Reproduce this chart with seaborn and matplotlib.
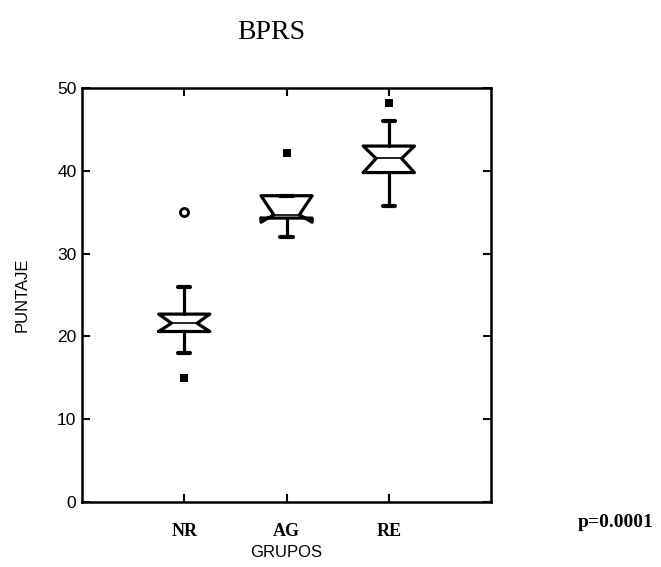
import matplotlib
matplotlib.use("Agg")
import matplotlib.pyplot as plt
import seaborn as sns

# ---- data ----
groups = ["NR", "AG", "RE"]
q1 = [20.6, 34.3, 39.8]
median = [21.6, 34.7, 41.5]
q3 = [22.7, 37.0, 43.0]
ci_lo = [20.6, 33.8, 39.8]
ci_hi = [22.7, 37.0, 43.0]
whisker_lo = [18.0, 32.0, 35.8]
whisker_hi = [26.0, 37.0, 46.0]
far_out_group = ["NR"]
far_out_value = [35.0]
out_group = ["NR", "AG", "RE"]
out_value = [15.0, 42.2, 48.2]
y_ticks = [0, 10, 20, 30, 40, 50]
title = "BPRS"
x_label = "GRUPOS"
y_label = "PUNTAJE"
p_text = "p=0.0001"

sns.set_style("white")
plt.rcParams["font.family"] = ["Liberation Sans", "DejaVu Sans"]
plt.rcParams.update({"text.color": "black", "axes.labelcolor": "black",
                     "xtick.color": "black", "ytick.color": "black"})

fig = plt.figure(figsize=(6.61, 5.67), dpi=100)
ax = fig.add_axes([0.124, 0.1146, 0.619, 0.730])

stats = []
for i, g in enumerate(groups):
    stats.append(dict(label=g, q1=q1[i], med=median[i], q3=q3[i],
                      cilo=ci_lo[i], cihi=ci_hi[i],
                      whislo=whisker_lo[i], whishi=whisker_hi[i], fliers=[]))

pos = list(range(1, len(groups) + 1))
lw = 2.3
ax.bxp(stats, positions=pos, widths=0.5, shownotches=True, showfliers=False,
       capwidths=0.12,
       boxprops=dict(color="black", linewidth=lw),
       whiskerprops=dict(color="black", linewidth=lw),
       capprops=dict(color="black", linewidth=lw + 0.7),
       medianprops=dict(color="black", linewidth=1.2))

sns.scatterplot(x=[groups.index(g) + 1 for g in out_group], y=out_value, ax=ax,
                marker="s", color="black", s=30, linewidth=0, legend=False)
sns.scatterplot(x=[groups.index(g) + 1 for g in far_out_group], y=far_out_value, ax=ax,
                marker="o", facecolor="white", edgecolor="black", s=34, linewidth=2.0,
                legend=False)

ax.set_xlim(0, 4)
ax.set_ylim(0, 50)
ax.set_yticks(y_ticks)
ax.set_xticks(pos)
ax.set_xticklabels(groups, family="Liberation Serif", fontweight="bold", fontsize=13)
ax.tick_params(axis="x", direction="in", top=True, bottom=True, length=6, width=1.5, pad=15)
ax.tick_params(axis="y", direction="in", left=True, right=True, length=6, width=1.5,
               labelsize=12.5, pad=4)
for s in ax.spines.values():
    s.set_visible(True)
    s.set_color("black")
    s.set_linewidth(1.8)

ax.set_xlabel(x_label, fontsize=12, labelpad=4)
ax.set_ylabel(y_label, fontsize=12, labelpad=20)

fig.text(0.41, 0.943, title, ha="center", va="center",
         family="Liberation Serif", fontsize=20)
fig.text(0.874, 0.078, p_text, ha="left", va="center",
         family="Liberation Serif", fontweight="bold", fontsize=14)

fig.savefig("out.png", dpi=100)
